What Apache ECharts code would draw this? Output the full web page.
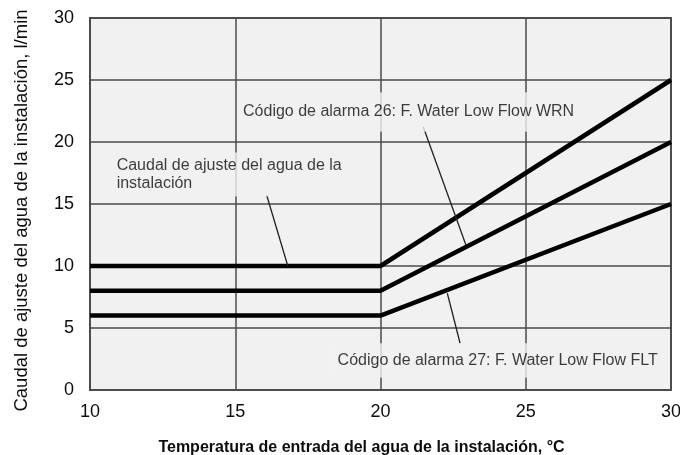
<!DOCTYPE html>
<html>
<head>
<meta charset="utf-8">
<script src="https://cdn.jsdelivr.net/npm/echarts@6/dist/echarts.min.js"></script>
<style>
  html, body { margin: 0; padding: 0; background: #fff; }
  #chart { width: 680px; height: 455px; }
</style>
</head>
<body>
<div id="chart"></div>
<script>
// datos
const temps = [10, 20, 30];
const caudalAjuste = [10, 10, 25];
const alarmaWrn = [8, 8, 20];
const alarmaFlt = [6, 6, 15];

const xTicks = [10, 15, 20, 25, 30];
const yTicks = [0, 5, 10, 15, 20, 25, 30];

// lineas de referencia de las anotaciones [x, y]
const guiaAjuste = [[16.08, 15.73], [16.81, 10]];
const guiaWrn = [[21.47, 21.23], [22.94, 11.7]];
const guiaFlt = [[22.30, 7.80], [22.74, 3.77]];

// textos de las anotaciones
const txtAjuste = "Caudal de ajuste del agua de la\ninstalación";
const txtWrn = "Código de alarma 26: F. Water Low Flow WRN";
const txtFlt = "Código de alarma 27: F. Water Low Flow FLT";

const FONT = "Arial, 'Liberation Sans', sans-serif";
const PLOT_BG = "#f1f1f1";
const INK = "#0d0d0d";

const toPairs = (xs, ys) => xs.map((x, i) => [x, ys[i]]);

const curve = (data) => ({
  type: "line",
  data: data,
  symbol: "none",
  silent: true,
  lineStyle: { color: "#000", width: 4.5 },
  z: 3
});

const guide = (data) => ({
  type: "line",
  data: data,
  symbol: "none",
  silent: true,
  lineStyle: { color: "#222", width: 1.3 },
  z: 4
});

// etiqueta con fondo del area de trazado (tapa la reticula)
const note = (pos, text, align, padding) => ({
  type: "scatter",
  data: [pos],
  symbolSize: 0,
  silent: true,
  z: 5,
  label: {
    show: true,
    position: [0, 0],
    formatter: () => text,
    align: align,
    verticalAlign: "middle",
    fontFamily: FONT,
    fontSize: 16,
    lineHeight: 18.5,
    color: INK,
    backgroundColor: PLOT_BG,
    padding: padding
  }
});

const chart = echarts.init(document.getElementById("chart"), null, { renderer: "canvas" });

chart.setOption({
  animation: false,
  backgroundColor: "#fff",
  grid: {
    left: 90,
    right: 9,
    top: 18,
    bottom: 65,
    containLabel: false,
    outerBoundsMode: "none",
    show: true,
    backgroundColor: PLOT_BG,
    borderColor: "#555",
    borderWidth: 2
  },
  xAxis: {
    type: "value",
    min: xTicks[0],
    max: xTicks[xTicks.length - 1],
    interval: 5,
    name: "Temperatura de entrada del agua de la instalación, °C",
    nameLocation: "middle",
    nameGap: 50,
    nameTextStyle: {
      fontFamily: FONT,
      fontSize: 16,
      fontWeight: "bold",
      color: INK,
      padding: [0, 38, 0, 0]
    },
    axisLine: { show: false },
    axisTick: { show: false },
    axisLabel: {
      margin: 13,
      fontFamily: FONT,
      fontSize: 18,
      color: INK
    },
    splitLine: { show: true, lineStyle: { color: "#4a4a4a", width: 1.5 } }
  },
  yAxis: {
    type: "value",
    min: yTicks[0],
    max: yTicks[yTicks.length - 1],
    interval: 5,
    name: "Caudal de ajuste del agua de la instalación, l/min",
    nameLocation: "middle",
    nameGap: 59,
    nameTextStyle: {
      fontFamily: FONT,
      fontSize: 18.5,
      color: INK,
      padding: [0, 13, 0, 0]
    },
    axisLine: { show: false },
    axisTick: { show: false },
    axisLabel: {
      margin: 16,
      fontFamily: FONT,
      fontSize: 18,
      color: INK
    },
    splitLine: { show: true, lineStyle: { color: "#4a4a4a", width: 1.5 } }
  },
  series: [
    curve(toPairs(temps, caudalAjuste)),
    curve(toPairs(temps, alarmaWrn)),
    curve(toPairs(temps, alarmaFlt)),
    guide(guiaAjuste),
    guide(guiaWrn),
    guide(guiaFlt),
    note([10.78, 17.37], txtAjuste, "left", [3, 4, 4, 4]),
    note([15.13, 22.42], txtWrn, "left", [7, 4, 14, 4]),
    note([29.68, 2.38], txtFlt, "right", [6, 4, 10, 4])
  ]
});
</script>
</body>
</html>
